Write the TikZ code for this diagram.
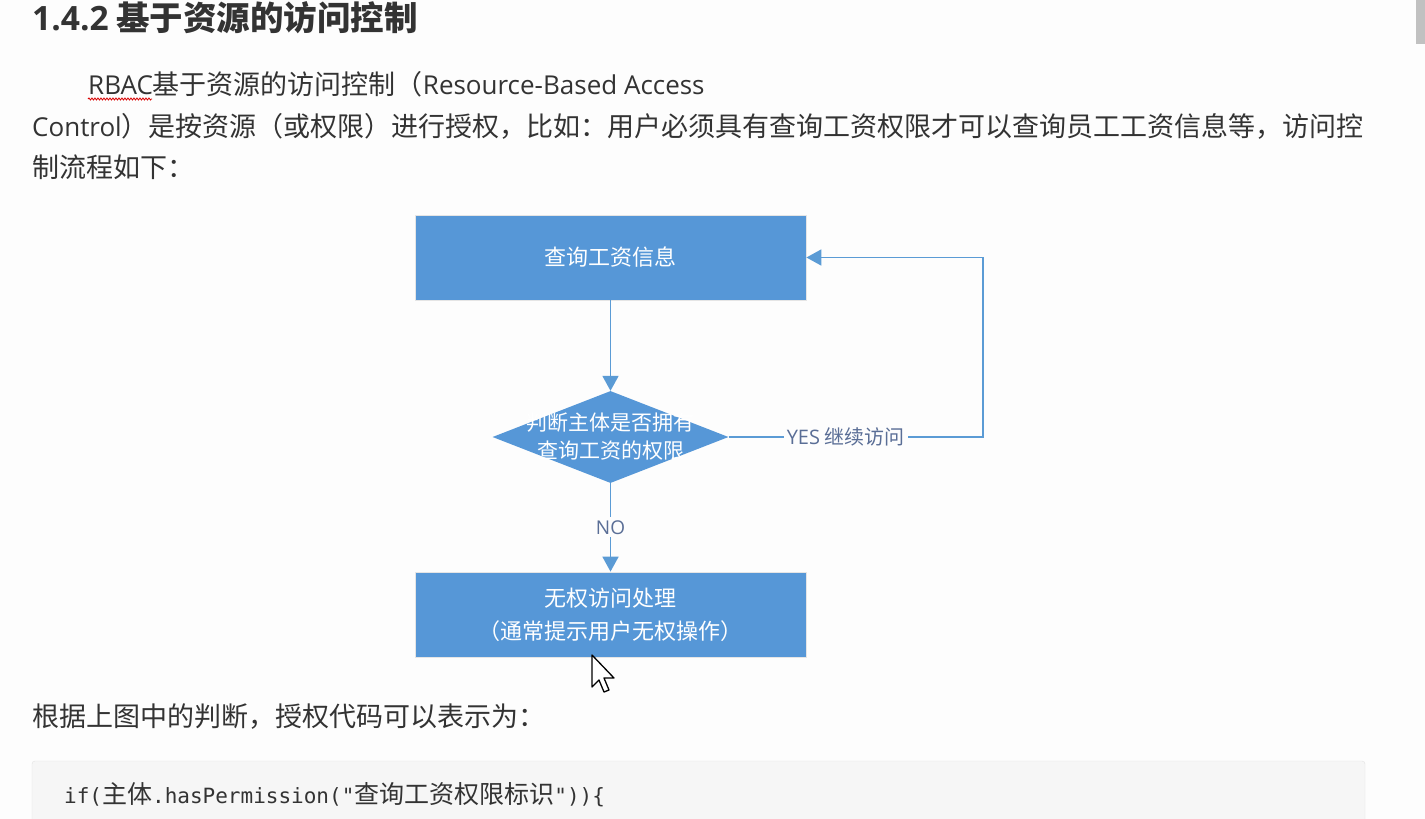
\documentclass[tikz,border=0pt]{standalone}
\usepackage{fontspec}
\setmainfont{Noto Sans CJK SC}
\newfontfamily\latfont{Open Sans}
\newfontfamily\cjkfont{Noto Sans CJK SC}
\setmonofont{DejaVu Sans Mono}
\usetikzlibrary{shapes.geometric,arrows.meta,decorations.pathmorphing}
\definecolor{pagebg}{HTML}{FDFDFD}
\definecolor{textgray}{HTML}{333333}
\definecolor{flowblue}{HTML}{5697D7}
\definecolor{lineblue}{HTML}{5B9BD5}
\definecolor{labelblue}{HTML}{5A6E96}
\definecolor{codebg}{HTML}{F6F6F6}
\definecolor{codeborder}{HTML}{E2E2E2}
\definecolor{scrollgray}{HTML}{C1C1C1}

\begin{document}
\begin{tikzpicture}[x=1pt,y=-1pt,
  bodytext/.style={anchor=base west,inner sep=0pt,text=textgray,font=\fontsize{27}{30}\selectfont},
  flowbox/.style={fill=flowblue,draw=black!10,line width=0.8pt,minimum width=391pt,minimum height=85pt,inner sep=0pt,
    text=white,align=center,font=\fontsize{22}{33}\selectfont},
  flowdiamond/.style={diamond,fill=flowblue,minimum width=236pt,minimum height=92pt,inner sep=0pt},
  flowline/.style={draw=lineblue,line width=1.8pt,-{Triangle[length=15pt,width=16pt]}},
  flowlabel/.style={fill=pagebg,text=labelblue,inner sep=3pt,font=\fontsize{20}{22}\selectfont}]
  % page
  \useasboundingbox (0,0) rectangle (1425,819);
  \fill[pagebg] (0,0) rectangle (1425,819);
  \fill[scrollgray] (1416,0) rectangle (1425,44);
  % heading and text
  \node[bodytext,font=\fontsize{33.5}{36}\selectfont\bfseries] (title) at (32,30)
    {{\latfont\bfseries 1.4.2} 基于资源的访问控制};
  \node[bodytext] (line1) at (88,94)
    {{\latfont\fontsize{26}{30}\selectfont RBAC}基于资源的访问控制（{\latfont\fontsize{26}{30}\selectfont Resource-Based Access}};
  \node[bodytext] (line2) at (32,136)
    {{\latfont\fontsize{26}{30}\selectfont Control}）是按资源（或权限）进行授权，比如：用户必须具有查询工资权限才可以查询员工工资信息等，访问控};
  \node[bodytext] (line3) at (32,177) {制流程如下：};
  \draw[red!85!black,line width=0.8pt,decorate,decoration={snake,amplitude=1pt,segment length=3pt}]
    (line1.base west) ++(0,5) -- ++(64,0);
  % flow chart
  \node[flowbox] (query) at (610.5,257.5) {查询工资信息};
  \node[flowdiamond] (judge) at (610.5,437) {};
  \node[text=white,align=center,font=\fontsize{21}{28}\selectfont] (judgetext) at (judge.center)
    {判断主体是否拥有\\查询工资的权限};
  \node[flowbox] (deny) at (610.5,614.5) {无权访问处理\\（通常提示用户无权操作）};
  \coordinate (turn) at (983,257.5);
  \draw[flowline] (query.south) -- (judge.north);
  \draw[flowline] (judge.east) -- node[flowlabel,pos=0.46] {{\latfont YES} 继续访问}
    (turn |- judge.east) |- (query.east);
  \draw[flowline] (judge.south) -- node[flowlabel,font=\latfont\fontsize{19}{20}\selectfont] {NO} (deny.north);
  % mouse pointer
  \draw[black,fill=white,line width=1.3pt,line join=round]
    (592,655) -- ++(0,32) -- ++(7,-7) -- ++(5,12) -- ++(5,-2) -- ++(-5,-12) -- ++(10,0) -- cycle;
  % text below and code block
  \node[bodytext] (line4) at (32,726) {根据上图中的判断，授权代码可以表示为：};
  \draw[codeborder,fill=codebg,rounded corners=3pt] (32,761) rectangle (1365,840);
  \node[bodytext,font=\ttfamily\fontsize{21}{24}\selectfont] (code) at (64,803)
    {if({\cjkfont\fontsize{25}{24}\selectfont 主体}.hasPermission("{\cjkfont\fontsize{25}{24}\selectfont 查询工资权限标识}"))\{};
\end{tikzpicture}
\end{document}
